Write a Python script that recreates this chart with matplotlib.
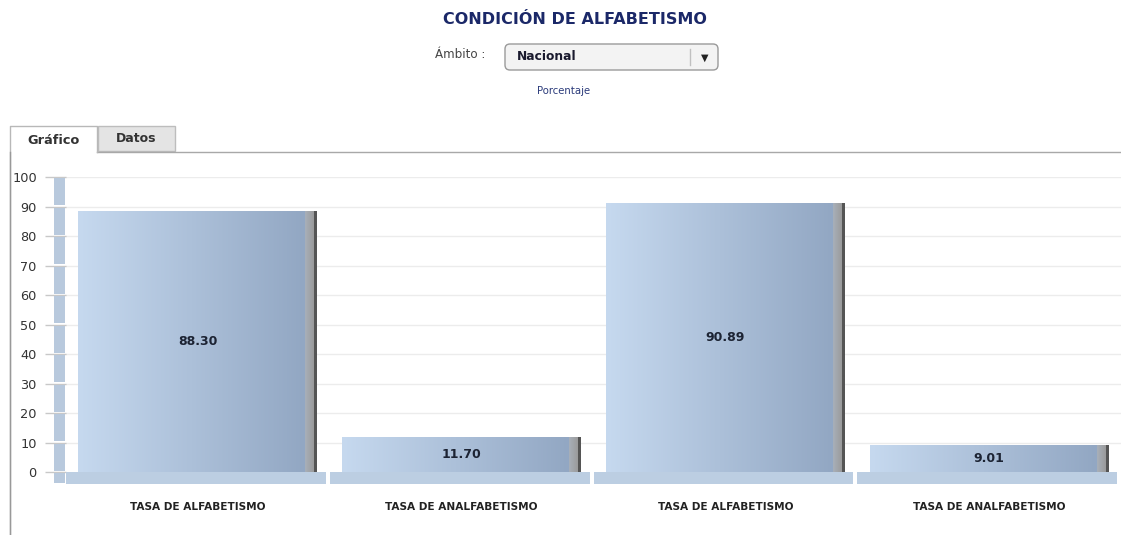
import numpy as np
import matplotlib.pyplot as plt
from matplotlib.patches import Rectangle, FancyBboxPatch
from matplotlib.colors import to_rgb

W, H = 1121, 535

title = 'CONDICIÓN DE ALFABETISMO'
ambito = 'Nacional'
unidad = 'Porcentaje'
categorias = ['TASA DE ALFABETISMO', 'TASA DE ANALFABETISMO',
              'TASA DE ALFABETISMO', 'TASA DE ANALFABETISMO']
valores = [88.30, 11.70, 90.89, 9.01]
yticks = list(range(0, 101, 10))


def bar_gradient(n=240):
    left, right = np.array(to_rgb('#c6d9ef')), np.array(to_rgb('#92a7c3'))
    g1, g2 = np.array(to_rgb('#a9b1bb')), np.array(to_rgb('#9a9a9a'))
    dark = np.array(to_rgb('#555555'))
    cols = []
    for i in range(n):
        f = i / (n - 1)
        if f < 0.95:
            t = f / 0.95
            cols.append(left * (1 - t) + right * t)
        elif f < 0.99:
            t = (f - 0.95) / 0.04
            cols.append(g1 * (1 - t) + g2 * t)
        else:
            cols.append(dark)
    return np.array(cols)[None, :, :]


fig = plt.figure(figsize=(W / 100, H / 100), dpi=100)

# page / UI layer in pixel coordinates
ov = fig.add_axes([0, 0, 1, 1], zorder=0)
ov.set_xlim(0, W)
ov.set_ylim(H, 0)
ov.axis('off')

ov.text(575, 19, title, ha='center', va='center', fontsize=11.5,
        fontweight='bold', color='#1b2868')
ov.text(460, 55, 'Ámbito :', ha='center', va='center', fontsize=8.6,
        color='#444444')
ov.add_patch(FancyBboxPatch((505, 44), 213, 26,
                            boxstyle='round,pad=0,rounding_size=5',
                            facecolor='#f3f3f3', edgecolor='#9a9a9a', lw=1))
ov.plot([690, 690], [49, 65], color='#c0c0c0', lw=1)
ov.text(517, 57, ambito, ha='left', va='center', fontsize=8.8,
        fontweight='bold', color='#1a1a2e')
ov.text(705, 58, '▼', ha='center', va='center', fontsize=7, color='#222222')
ov.text(564, 91, unidad, ha='center', va='center', fontsize=7.3,
        color='#2a3a7a')

# tabs
ov.add_patch(Rectangle((98, 126), 77, 25, facecolor='#e4e4e4',
                       edgecolor='#bdbdbd', lw=1))
ov.plot([97, 1121], [152, 152], color='#a8a8a8', lw=1)
ov.add_patch(Rectangle((10, 126), 87, 27, facecolor='white',
                       edgecolor='none'))
ov.plot([10, 10, 97, 97], [535, 126, 126, 152], color='#b8b8b8', lw=1)
ov.plot([10, 10], [152, 535], color='#999999', lw=1)
ov.text(53, 140, 'Gráfico', ha='center', va='center', fontsize=9.3,
        fontweight='bold', color='#333333')
ov.text(136, 138, 'Datos', ha='center', va='center', fontsize=9,
        fontweight='bold', color='#333333')

# chart
y_top, y_bot = 177, 483.8
ax = fig.add_axes([66 / W, 1 - y_bot / H, (W - 66) / W, (y_bot - y_top) / H],
                  zorder=1)
ax.set_facecolor('none')
ax.set_xlim(-0.5, len(valores) - 0.5)
ax.set_ylim(-4, 100)
for s in ax.spines.values():
    s.set_visible(False)
ax.set_yticks(yticks)
ax.set_yticklabels([str(t) for t in yticks])
ax.tick_params(axis='y', length=15, width=1, color='#c8c8c8', pad=6,
               labelsize=9.3, labelcolor='#333333')
ax.set_xticks([])
for t in yticks[1:]:
    ax.axhline(t, color='#ececec', lw=1, zorder=0)

# left wall
wall_w = 12 / 263.75
for t in [-4] + yticks[:-1]:
    top = t + 10 if t >= 0 else 0
    ax.add_patch(Rectangle((-0.5 - wall_w, t + 0.35), wall_w * 0.95,
                           top - t - 0.7, facecolor='#b8c9dd',
                           edgecolor='none', clip_on=False, zorder=3))

grad = bar_gradient()
bw = 0.906
for i, (cat, v) in enumerate(zip(categorias, valores)):
    # floor strip
    ax.add_patch(Rectangle((i - 0.5, -4), 0.985, 4, facecolor='#bccee2',
                           edgecolor='none', clip_on=False, zorder=2))
    ax.imshow(grad, extent=[i - bw / 2, i + bw / 2, 0, v], aspect='auto',
              interpolation='bilinear', zorder=3)
    ax.text(i, v / 2, f'{v:.2f}', ha='center', va='center', fontsize=9,
            fontweight='bold', color='#1c2333', zorder=4)
    ax.text(i, -12, cat, ha='center', va='center', fontsize=7.6,
            fontweight='bold', color='#222222', clip_on=False)

ax.set_xlim(-0.5, len(valores) - 0.5)
ax.set_ylim(-4, 100)

fig.savefig('out.png', dpi=100)
